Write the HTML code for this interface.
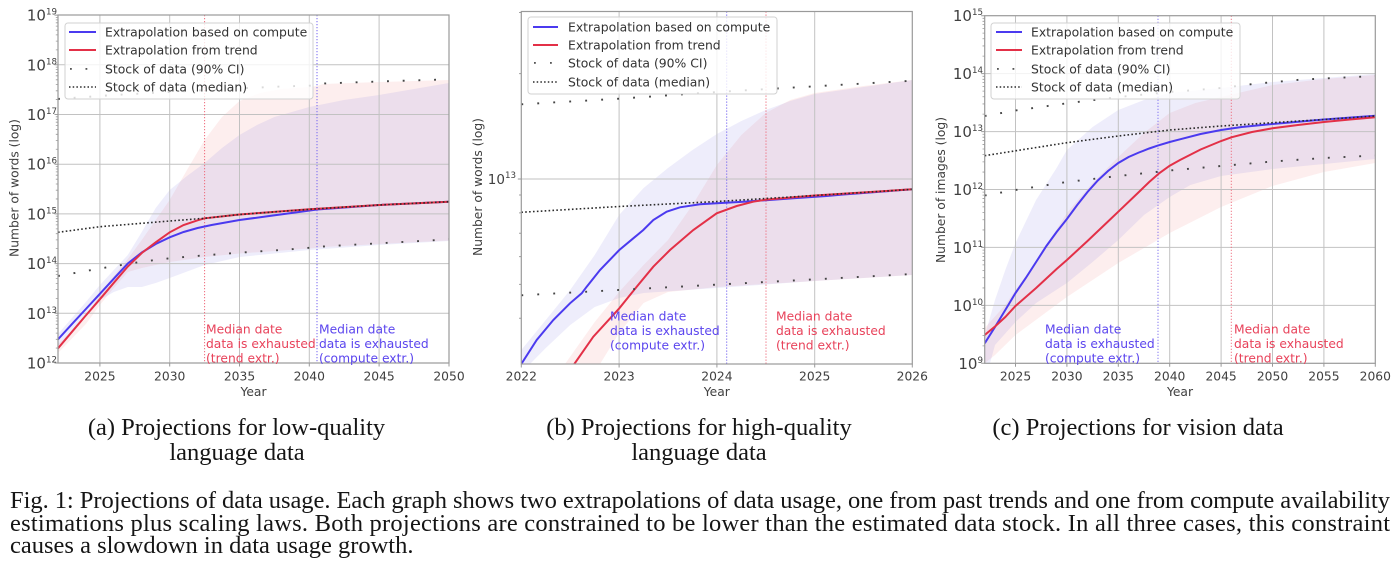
<!DOCTYPE html>
<html><head><meta charset="utf-8"><style>
html,body{margin:0;padding:0;background:#fff;}
svg{display:block;}
</style></head><body>
<svg width="1398" height="576" viewBox="0 0 1398 576" xmlns="http://www.w3.org/2000/svg" font-family="'DejaVu Sans','Liberation Sans',sans-serif">
<defs>
<clipPath id="ca"><rect x="58" y="15" width="391" height="348"/></clipPath>
<clipPath id="cb"><rect x="521.3" y="11.5" width="391" height="352.5"/></clipPath>
<clipPath id="cc"><rect x="984.7" y="15.7" width="390.6" height="347.6"/></clipPath>
<path id="ma" d="M0,-14.96h-2.2M0,-23.7h-2.2M0,-29.9h-2.2M0,-34.7h-2.2M0,-38.7h-2.2M0,-42h-2.2M0,-44.9h-2.2M0,-47.4h-2.2" stroke="#999" stroke-width="0.8" fill="none"/>
<path id="mc" d="M0,-17.44h-2.2M0,-27.64h-2.2M0,-34.87h-2.2M0,-40.49h-2.2M0,-45.08h-2.2M0,-48.96h-2.2M0,-52.31h-2.2M0,-55.28h-2.2" stroke="#999" stroke-width="0.8" fill="none"/>
</defs>

<!-- ================= PANEL A ================= -->
<g clip-path="url(#ca)">
<polygon fill="#f27070" fill-opacity="0.12" points="58,344 85.9,318 99.9,294 113.8,276 127.8,259 141.8,240 155.7,220 169.7,200 187,170 204.6,140 222,117 239.5,101 260,93 281.4,89 309.3,87 317,86 323.2,84 379.1,82 449,80 449,240.5 379.1,244 323.2,247 309.3,248.5 239.5,253.5 204.6,257 169.7,262 155.7,265 141.8,268 127.8,272 113.8,288 99.9,305 85.9,324 58,353"/>
<polygon fill="#6a62e0" fill-opacity="0.115" points="58,334 85.9,302 99.9,285 113.8,270 127.8,255 141.8,232 155.7,208 169.7,190 187,176 204.6,163 222,148 239.5,135 257,125 274.4,117 309.3,107 344,100 379.1,95 414,89 449,83 449,241 379.1,245 309.3,250 239.5,257 204.6,265 169.7,278 155.7,283 141.8,287 127.8,287 113.8,292 99.9,300 85.9,316 58,346"/>
<g stroke="#c2c2c2" stroke-width="1">
<path d="M58,313.3H449M58,263.6H449M58,213.9H449M58,164.2H449M58,114.5H449M58,64.8H449"/>
<path d="M99.9,15V363M169.7,15V363M239.5,15V363M309.3,15V363M379.1,15V363"/>
</g>
<line x1="204.6" y1="15" x2="204.6" y2="363" stroke="#ee6a7a" stroke-width="1" stroke-dasharray="1.2 1.8"/>
<line x1="317" y1="15" x2="317" y2="363" stroke="#7565f0" stroke-width="1" stroke-dasharray="1.2 1.8"/>
<polyline fill="none" stroke="#4b3aef" stroke-width="2" points="58,339.3 71.96,324.1 85.9,309 99.9,293.8 113.8,278.7 127.8,263.5 141.8,252.5 155.7,244 169.7,237.3 183.6,232 197.6,228 211.6,225 239.5,220 267.4,216.3 295.3,212.5 317,209.5 379.1,205 449,201.7"/>
<polyline fill="none" stroke="#e33047" stroke-width="2" points="58,348.3 71.96,331.8 85.9,315.4 99.9,299.2 113.8,282.8 127.8,266.5 141.8,253 155.7,242.3 169.7,232.3 183.6,225 197.6,220.3 204.6,218.3 239.5,214.5 309.3,209.3 379.1,205 449,201.7"/>
<polyline fill="none" stroke="#2a2a2a" stroke-width="1.6" stroke-dasharray="1.6 2.3" points="58,232.3 99.9,226.7 169.7,221 204.6,218.3 239.5,214.5 309.3,209.3 379.1,205 449,201.7"/>
<polyline fill="none" stroke="#444" stroke-width="1.9" stroke-dasharray="1.9 13.8" points="58,99 113.8,95 169.7,92 225.5,89 281.4,86.5 316,85.5 323.2,83.5 379.1,81.5 449,79.3"/>
<polyline fill="none" stroke="#444" stroke-width="1.9" stroke-dasharray="1.9 13.8" points="58,276 99.9,268.5 141.8,261.7 169.7,258.3 204.6,255.3 239.5,252.7 281.4,250 309.3,247.8 323.2,246.5 379.1,243.3 421,241 449,239.3"/>
</g>
<rect x="58" y="15" width="391" height="348" fill="none" stroke="#9a9a9a" stroke-width="1.2"/>
<use href="#ma" x="58" y="363"/><use href="#ma" x="58" y="313.3"/><use href="#ma" x="58" y="263.6"/><use href="#ma" x="58" y="213.9"/><use href="#ma" x="58" y="164.2"/><use href="#ma" x="58" y="114.5"/><use href="#ma" x="58" y="64.8"/>
<path d="M58,363h-3.5M58,313.3h-3.5M58,263.6h-3.5M58,213.9h-3.5M58,164.2h-3.5M58,114.5h-3.5M58,64.8h-3.5M58,15.1h-3.5M99.9,363v3.5M169.7,363v3.5M239.5,363v3.5M309.3,363v3.5M379.1,363v3.5M449,363v3.5" stroke="#999" stroke-width="1"/>
<g fill="#404040" font-size="15" text-anchor="end">
<text x="57" y="368.5">10<tspan font-size="8.7" dy="-6">12</tspan></text>
<text x="57" y="318.8">10<tspan font-size="8.7" dy="-6">13</tspan></text>
<text x="57" y="269.1">10<tspan font-size="8.7" dy="-6">14</tspan></text>
<text x="57" y="219.4">10<tspan font-size="8.7" dy="-6">15</tspan></text>
<text x="57" y="169.7">10<tspan font-size="8.7" dy="-6">16</tspan></text>
<text x="57" y="120">10<tspan font-size="8.7" dy="-6">17</tspan></text>
<text x="57" y="70.3">10<tspan font-size="8.7" dy="-6">18</tspan></text>
<text x="57" y="20.6">10<tspan font-size="8.7" dy="-6">19</tspan></text>
</g>
<g fill="#404040" font-size="12.3" text-anchor="middle">
<text x="99.9" y="380.5">2025</text><text x="169.7" y="380.5">2030</text><text x="239.5" y="380.5">2035</text><text x="309.3" y="380.5">2040</text><text x="379.1" y="380.5">2045</text><text x="449" y="380.5">2050</text>
<text x="253.5" y="396">Year</text>
<text transform="translate(18.5,188) rotate(-90)">Number of words (log)</text>
</g>
<g font-size="12.3">
<g fill="#e8425a"><text x="206" y="333.5">Median date</text><text x="206" y="348">data is exhausted</text><text x="206" y="362.3">(trend extr.)</text></g>
<g fill="#5b45ee"><text x="319" y="333.5">Median date</text><text x="319" y="348">data is exhausted</text><text x="319" y="362.3">(compute extr.)</text></g>
</g>
<rect x="65" y="23" width="248" height="76" rx="3" fill="#fff" fill-opacity="0.8" stroke="#d2d2d2" stroke-width="1"/>
<line x1="69" y1="32" x2="96" y2="32" stroke="#4b3aef" stroke-width="2"/>
<line x1="69" y1="50" x2="96" y2="50" stroke="#e33047" stroke-width="2"/>
<rect x="70" y="68" width="1.8" height="1.8" fill="#555"/><rect x="85.5" y="68" width="1.8" height="1.8" fill="#555"/>
<line x1="69" y1="87" x2="96" y2="87" stroke="#2a2a2a" stroke-width="1.5" stroke-dasharray="1.5 2.2"/>
<g fill="#333" font-size="12.4"><text x="105" y="36.5">Extrapolation based on compute</text><text x="105" y="54.5">Extrapolation from trend</text><text x="105" y="73.5">Stock of data (90% CI)</text><text x="105" y="91.5">Stock of data (median)</text></g>

<!-- ================= PANEL B ================= -->
<g clip-path="url(#cb)">
<polygon fill="#f27070" fill-opacity="0.12" points="565,364 594.7,322 619.1,292 643.6,265 668,240 692.5,205 716.9,165 741.4,135 765.8,113 790.3,100 814.7,93 863.6,86 912.3,80 912.3,275 814.7,281 716.9,287 668,292 643.6,303 619.1,333 600,364"/>
<polygon fill="#6a62e0" fill-opacity="0.115" points="521.3,350 545.8,320 570.2,290 594.7,255 619.1,215 643.6,188 668,168 692.5,150 716.9,134 741.4,121 765.8,110 790.3,101 814.7,94 863.6,87 912.3,80 912.3,275 814.7,281 716.9,288 643.6,293 619.1,298 594.7,307 570.2,325 545.8,348 530,364 521.3,364"/>
<g stroke="#c2c2c2" stroke-width="1">
<path d="M521.3,179H912.3"/>
<path d="M619.1,11.5V364M716.9,11.5V364M814.7,11.5V364"/>
</g>
<line x1="726.7" y1="11.5" x2="726.7" y2="364" stroke="#7565f0" stroke-width="1" stroke-dasharray="1.2 1.8"/>
<line x1="766" y1="11.5" x2="766" y2="364" stroke="#ee6a7a" stroke-width="1" stroke-dasharray="1.2 1.8"/>
<polyline fill="none" stroke="#4b3aef" stroke-width="2" points="521.3,364 536.7,340 553.3,320 570,303.3 581.7,293.3 586.7,286.7 600,270 619.3,250 633.3,238.3 643.3,230 653.3,220 666.7,211.7 680,207.3 700,204.3 716.7,203.2 743.3,201.8 766,200.2 793.3,198.2 826.7,196 843.3,194.5 912.3,189.3"/>
<polyline fill="none" stroke="#e33047" stroke-width="2" points="574.3,364 593.3,336.7 619.3,308.3 636.7,286.7 653.3,266.7 670,250 693.3,230 716.7,213.3 736.7,206 753.3,201.7 766,199.6 814.7,195.5 912.3,189.3"/>
<polyline fill="none" stroke="#2a2a2a" stroke-width="1.6" stroke-dasharray="1.6 2.3" points="521.3,212.3 619.1,206.5 716.9,201.5 814.7,195.5 912.3,189.3"/>
<polyline fill="none" stroke="#444" stroke-width="1.9" stroke-dasharray="1.9 14.1" points="521.3,104.3 619.1,98.7 716.9,92 790.3,87.7 912.3,80.7"/>
<polyline fill="none" stroke="#444" stroke-width="1.9" stroke-dasharray="1.9 14.1" points="521.3,295.3 912.3,274"/>
</g>
<rect x="521.3" y="11.5" width="391" height="352.5" fill="none" stroke="#9a9a9a" stroke-width="1.2"/>
<path d="M521.3,179h-3.5M521.3,318.3h-2.2M521.3,284.4h-2.2M521.3,256.6h-2.2M521.3,233.2h-2.2M521.3,212.9h-2.2M521.3,195h-2.2M521.3,73.6h-2.2M521.3,12.5h-2.2M521.3,364v3.5M619.1,364v3.5M716.9,364v3.5M814.7,364v3.5M912.3,364v3.5" stroke="#999" stroke-width="1"/>
<text x="516" y="184" fill="#404040" font-size="13.5" text-anchor="end">10<tspan font-size="8.7" dy="-6">13</tspan></text>
<g fill="#404040" font-size="12.3" text-anchor="middle">
<text x="521.3" y="380.5">2022</text><text x="619.1" y="380.5">2023</text><text x="716.9" y="380.5">2024</text><text x="814.7" y="380.5">2025</text><text x="912.3" y="380.5">2026</text>
<text x="716.8" y="396">Year</text>
<text transform="translate(482,187) rotate(-90)">Number of words (log)</text>
</g>
<g font-size="12.3">
<g fill="#5b45ee"><text x="610" y="320.5">Median date</text><text x="610" y="335">data is exhausted</text><text x="610" y="349.5">(compute extr.)</text></g>
<g fill="#e8425a"><text x="776" y="320.5">Median date</text><text x="776" y="335">data is exhausted</text><text x="776" y="349.5">(trend extr.)</text></g>
</g>
<rect x="528" y="17" width="249" height="77" rx="3" fill="#fff" fill-opacity="0.8" stroke="#d2d2d2" stroke-width="1"/>
<line x1="533" y1="27" x2="558" y2="27" stroke="#4b3aef" stroke-width="2"/>
<line x1="533" y1="45" x2="558" y2="45" stroke="#e33047" stroke-width="2"/>
<rect x="534" y="62" width="1.8" height="1.8" fill="#555"/><rect x="550" y="62" width="1.8" height="1.8" fill="#555"/>
<line x1="533" y1="82" x2="558" y2="82" stroke="#2a2a2a" stroke-width="1.5" stroke-dasharray="1.5 2.2"/>
<g fill="#333" font-size="12.4"><text x="568" y="31.5">Extrapolation based on compute</text><text x="568" y="49.5">Extrapolation from trend</text><text x="568" y="67.5">Stock of data (90% CI)</text><text x="568" y="86.5">Stock of data (median)</text></g>

<!-- ================= PANEL C ================= -->
<g clip-path="url(#cc)">
<polygon fill="#f27070" fill-opacity="0.12" points="984.7,328 1005.3,305 1015.5,290 1036.1,262 1066.9,213 1092.6,183 1118.3,157 1144,133 1169.7,113 1195.4,103 1221.1,97 1272.5,85 1323.9,79 1375.3,75 1375.3,163 1323.9,172 1272.5,186 1221.1,207 1169.7,233 1118.3,263 1066.9,297 1015.5,335 995,355 984.7,363.3"/>
<polygon fill="#6a62e0" fill-opacity="0.115" points="984.7,336 995,300 1005.3,270 1015.5,243 1036.1,200 1056.6,168 1066.9,150 1092.6,127 1118.3,110 1144,100 1169.7,93 1221.1,88 1272.5,82 1323.9,78 1375.3,74 1375.3,159 1323.9,164 1272.5,169 1221.1,176 1190.3,185 1169.7,197 1144,215 1118.3,240 1092.6,262 1066.9,283 1036.1,303 1015.5,322 995,345 990,363.3 984.7,363.3"/>
<g stroke="#c2c2c2" stroke-width="1">
<path d="M984.7,305.4H1375.3M984.7,247.4H1375.3M984.7,189.5H1375.3M984.7,131.6H1375.3M984.7,73.6H1375.3"/>
<path d="M1015.5,15.7V363.3M1066.9,15.7V363.3M1118.3,15.7V363.3M1169.7,15.7V363.3M1221.1,15.7V363.3M1272.5,15.7V363.3M1323.9,15.7V363.3"/>
</g>
<line x1="1158" y1="15.7" x2="1158" y2="363.3" stroke="#7565f0" stroke-width="1" stroke-dasharray="1.2 1.8"/>
<line x1="1231.3" y1="15.7" x2="1231.3" y2="363.3" stroke="#ee6a7a" stroke-width="1" stroke-dasharray="1.2 1.8"/>
<polyline fill="none" stroke="#4b3aef" stroke-width="2" points="984.7,343.3 995,327 1005.3,310 1015.5,293 1025.8,278 1036.1,262 1046.4,246 1056.6,232 1066.9,219 1077.2,205 1087.5,192 1097.8,180.5 1108,171 1118.3,163 1128.6,157 1138.9,152.5 1149.2,148.5 1157.4,145.7 1169.7,142 1180,139.3 1200.6,134 1221.1,130 1241.7,127 1272.5,124 1323.9,119.5 1375.3,115.7"/>
<polyline fill="none" stroke="#e33047" stroke-width="2" points="984.7,335 995,326.5 1005.3,317 1015.5,306 1036.1,288 1056.6,269 1066.9,260 1087.5,241 1108,221.5 1118.3,211.7 1138.9,192 1149.2,182 1159.5,173 1169.7,165.7 1180,160 1200.6,149.5 1221.1,141 1231.4,137.3 1252,132 1272.5,128.3 1298,125 1323.9,122 1350,119.5 1375.3,117.3"/>
<polyline fill="none" stroke="#2a2a2a" stroke-width="1.6" stroke-dasharray="1.6 2.3" points="984.7,155.7 1015.5,150.8 1066.9,142.7 1118.3,136 1169.7,130 1221.1,126 1272.5,122.7 1323.9,119.5 1375.3,116"/>
<polyline fill="none" stroke="#444" stroke-width="1.9" stroke-dasharray="1.9 13.8" points="984.7,116 1015.5,110.5 1066.9,103.3 1118.3,97 1169.7,92 1221.1,88 1253,84 1300,79.7 1375.3,76"/>
<polyline fill="none" stroke="#444" stroke-width="1.9" stroke-dasharray="1.9 13.8" points="984.7,195.5 1015.5,190 1066.9,182 1118.3,176 1169.7,170.5 1221.1,166 1272.5,161.5 1323.9,158 1375.3,155.5"/>
</g>
<rect x="984.7" y="15.7" width="390.6" height="347.6" fill="none" stroke="#9a9a9a" stroke-width="1.2"/>
<use href="#mc" x="984.7" y="363.3"/><use href="#mc" x="984.7" y="305.4"/><use href="#mc" x="984.7" y="247.4"/><use href="#mc" x="984.7" y="189.5"/><use href="#mc" x="984.7" y="131.6"/><use href="#mc" x="984.7" y="73.6"/>
<path d="M984.7,363.3h-3.5M984.7,305.4h-3.5M984.7,247.4h-3.5M984.7,189.5h-3.5M984.7,131.6h-3.5M984.7,73.6h-3.5M984.7,15.7h-3.5M1015.5,363.3v3.5M1066.9,363.3v3.5M1118.3,363.3v3.5M1169.7,363.3v3.5M1221.1,363.3v3.5M1272.5,363.3v3.5M1323.9,363.3v3.5M1375.3,363.3v3.5" stroke="#999" stroke-width="1"/>
<g fill="#404040" font-size="15" text-anchor="end">
<text x="983" y="368.8">10<tspan font-size="8.7" dy="-6">9</tspan></text>
<text x="983" y="310.9">10<tspan font-size="8.7" dy="-6">10</tspan></text>
<text x="983" y="252.9">10<tspan font-size="8.7" dy="-6">11</tspan></text>
<text x="983" y="195">10<tspan font-size="8.7" dy="-6">12</tspan></text>
<text x="983" y="137.1">10<tspan font-size="8.7" dy="-6">13</tspan></text>
<text x="983" y="79.1">10<tspan font-size="8.7" dy="-6">14</tspan></text>
<text x="983" y="21.2">10<tspan font-size="8.7" dy="-6">15</tspan></text>
</g>
<g fill="#404040" font-size="12.3" text-anchor="middle">
<text x="1015.5" y="380.5">2025</text><text x="1066.9" y="380.5">2030</text><text x="1118.3" y="380.5">2035</text><text x="1169.7" y="380.5">2040</text><text x="1221.1" y="380.5">2045</text><text x="1272.5" y="380.5">2050</text><text x="1323.9" y="380.5">2055</text><text x="1375.3" y="380.5">2060</text>
<text x="1180" y="396">Year</text>
<text transform="translate(945,190) rotate(-90)">Number of images (log)</text>
</g>
<g font-size="12.3">
<g fill="#5b45ee"><text x="1045" y="333.5">Median date</text><text x="1045" y="348">data is exhausted</text><text x="1045" y="362.3">(compute extr.)</text></g>
<g fill="#e8425a"><text x="1234" y="333.5">Median date</text><text x="1234" y="348">data is exhausted</text><text x="1234" y="362.3">(trend extr.)</text></g>
</g>
<rect x="991" y="23" width="249" height="76" rx="3" fill="#fff" fill-opacity="0.8" stroke="#d2d2d2" stroke-width="1"/>
<line x1="996" y1="32" x2="1022" y2="32" stroke="#4b3aef" stroke-width="2"/>
<line x1="996" y1="50" x2="1022" y2="50" stroke="#e33047" stroke-width="2"/>
<rect x="997" y="68" width="1.8" height="1.8" fill="#555"/><rect x="1012.5" y="68" width="1.8" height="1.8" fill="#555"/>
<line x1="996" y1="87" x2="1022" y2="87" stroke="#2a2a2a" stroke-width="1.5" stroke-dasharray="1.5 2.2"/>
<g fill="#333" font-size="12.4"><text x="1031" y="36.5">Extrapolation based on compute</text><text x="1031" y="54.5">Extrapolation from trend</text><text x="1031" y="73.5">Stock of data (90% CI)</text><text x="1031" y="91.5">Stock of data (median)</text></g>

<!-- ================= CAPTIONS ================= -->
<g font-family="'Liberation Serif','Times New Roman',serif" font-size="24.5" fill="#151515">
<text x="236.5" y="435" text-anchor="middle">(a) Projections for low-quality</text>
<text x="237" y="460" text-anchor="middle">language data</text>
<text x="699" y="435" text-anchor="middle">(b) Projections for high-quality</text>
<text x="699" y="460" text-anchor="middle">language data</text>
<text x="1138" y="435" text-anchor="middle">(c) Projections for vision data</text>
<text x="10" y="508" textLength="1380" lengthAdjust="spacing">Fig. 1: Projections of data usage. Each graph shows two extrapolations of data usage, one from past trends and one from compute availability</text>
<text x="10" y="531" textLength="1380" lengthAdjust="spacing">estimations plus scaling laws. Both projections are constrained to be lower than the estimated data stock. In all three cases, this constraint</text>
<text x="10" y="553">causes a slowdown in data usage growth.</text>
</g>
</svg>
</body></html>
